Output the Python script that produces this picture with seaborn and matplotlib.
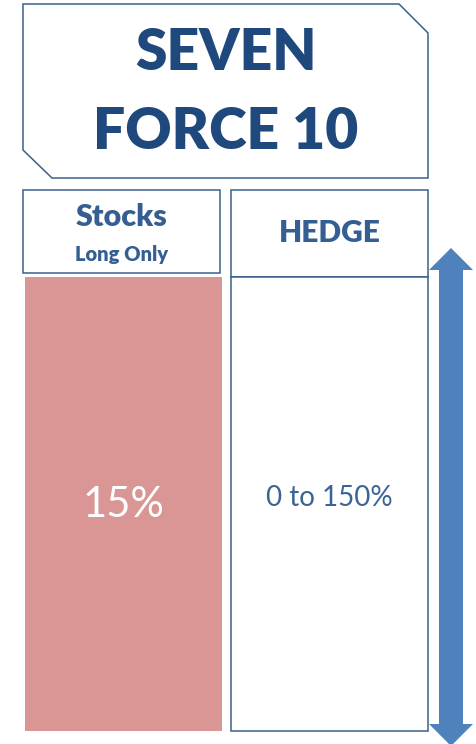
"""
SEVEN FORCE 10 allocation panel: stocks long-only share vs hedge range.
"""
import matplotlib
matplotlib.use("Agg")
import matplotlib.pyplot as plt
import matplotlib.transforms as mtransforms
from matplotlib.patches import Polygon, Rectangle
import seaborn as sns

# data
title_lines = ["SEVEN", "FORCE 10"]
categories = ["Stocks", "HEDGE"]
subtitles = ["Long Only", ""]
allocation_labels = ["15%", "0 to 150%"]
bar_colors = ["#D99694", "#FFFFFF"]
label_colors = ["#FFFFFF", "#3A6396"]
panel_fill = [1, 1]

TITLE_BLUE = "#1F497D"
HEAD_BLUE = "#355E92"
EDGE = "#3A5F8B"
ARROW = "#4F81BD"

sns.set_theme(style="white")
plt.rcParams["font.family"] = ["Lato", "DejaVu Sans"]

fig = plt.figure(figsize=(4.76, 7.44), dpi=100)

# background axes in pixel units (y down)
bg = fig.add_axes([0, 0, 1, 1])
bg.set_xlim(0, 476)
bg.set_ylim(744, 0)
bg.axis("off")

# title box with cut corners
title_box = Polygon([(23, 4), (399, 4), (428, 33), (428, 178), (52, 178), (23, 150)],
                    closed=True, facecolor="white", edgecolor=EDGE, lw=1.1)
bg.add_patch(title_box)
bg.text(226, 53, title_lines[0], ha="center", va="center", fontsize=41,
        fontweight="heavy", color=TITLE_BLUE)
bg.text(226, 132, title_lines[1], ha="center", va="center", fontsize=41,
        fontweight="heavy", color=TITLE_BLUE)

# double arrow on the right
arrow = Polygon([(451, 248), (473, 270), (463, 270), (463, 724), (473, 724),
                 (451, 746), (429, 724), (439, 724), (439, 270), (429, 270)],
                closed=True, facecolor=ARROW, edgecolor="none")
bg.add_patch(arrow)

# bars axes
ax = fig.add_axes([25 / 476, (744 - 731) / 744, (428 - 25) / 476, (731 - 277) / 744])
ax.patch.set_alpha(0)
sns.barplot(x=categories, y=panel_fill, hue=categories, palette=bar_colors,
            legend=False, width=0.956, linewidth=0, saturation=1, ax=ax)
ax.set_xlim(-0.478, 1.478)
ax.set_ylim(0, 1)
ax.axis("off")

bars = ax.patches
bars[1].set_edgecolor(EDGE)
bars[1].set_linewidth(1.1)
for p in bars:
    p.set_clip_on(False)

for i, lab in enumerate(allocation_labels):
    size = 30 if i == 0 else 20
    y = 0.498 if i == 0 else 0.513
    ax.text(i, y, lab, ha="center", va="center", fontsize=size, color=label_colors[i])

# header boxes: x from category scale, y in pixels
trans = mtransforms.blended_transform_factory(ax.transData, bg.transData)
w = 0.956
for i, cat in enumerate(categories):
    shift = -0.01 if i == 0 else 0.0
    bottom = 273 if i == 0 else 277
    bg.add_patch(Rectangle((i - w / 2 + shift, 190), w, bottom - 190, transform=trans,
                           facecolor="white", edgecolor=EDGE, lw=1.1, clip_on=False))
    if subtitles[i]:
        bg.text(i + shift, 217, cat, transform=trans, ha="center", va="center",
                fontsize=22, fontweight="heavy", color=HEAD_BLUE)
        bg.text(i + shift, 255, subtitles[i], transform=trans, ha="center", va="center",
                fontsize=14.5, fontweight="heavy", color=HEAD_BLUE)
    else:
        bg.text(i, 233, cat, transform=trans, ha="center", va="center",
                fontsize=21.5, fontweight="heavy", color=HEAD_BLUE)

fig.savefig("out.png", dpi=100)
plt.close(fig)
